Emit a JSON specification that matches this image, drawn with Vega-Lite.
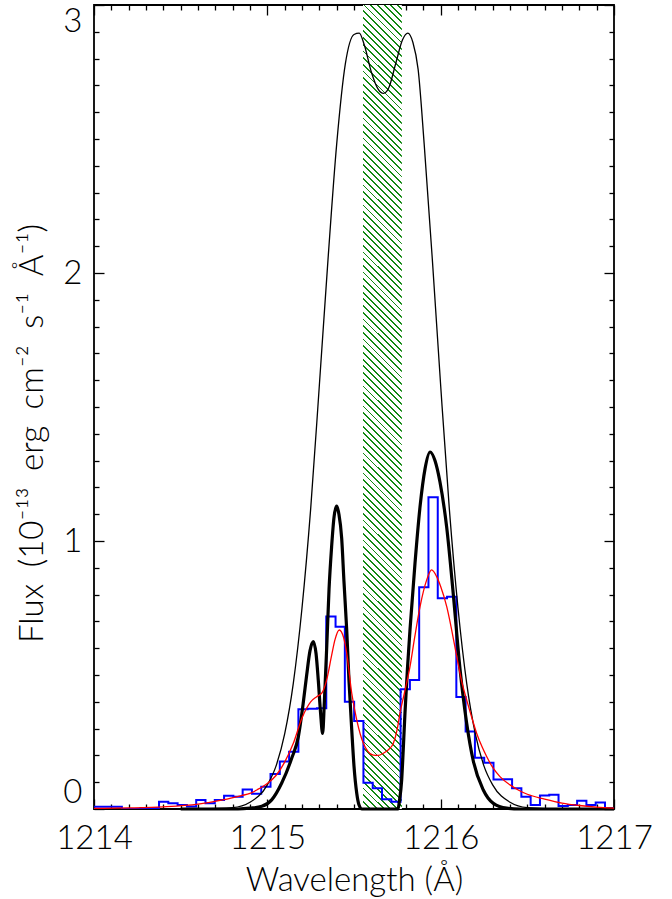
{
"$schema": "https://vega.github.io/schema/vega-lite/v6.json",
"width": 520, "height": 804,
"autosize": {"type": "none"},
"padding": {"left": 94, "top": 5, "right": 58, "bottom": 90},
"background": "white",
"config": {
 "view": {"stroke": "black", "strokeWidth": 1.8},
 "axis": {"grid": false, "domain": false, "tickColor": "black", "tickWidth": 1.3,
  "labelColor": "black", "labelFont": "Lato", "labelFontWeight": 300, "labelFontSize": 33,
  "titleColor": "black", "titleFont": "Lato", "titleFontWeight": 300, "titleFontSize": 33}
},
"datasets": {
 "hatch": [
  {"a": 1215.552, "b": 1215.776, "lo": 0.00, "hi": 0.25},
  {"a": 1215.552, "b": 1215.776, "lo": 0.25, "hi": 0.50},
  {"a": 1215.552, "b": 1215.776, "lo": 0.50, "hi": 0.75},
  {"a": 1215.552, "b": 1215.776, "lo": 0.75, "hi": 1.00},
  {"a": 1215.552, "b": 1215.776, "lo": 1.00, "hi": 1.25},
  {"a": 1215.552, "b": 1215.776, "lo": 1.25, "hi": 1.50},
  {"a": 1215.552, "b": 1215.776, "lo": 1.50, "hi": 1.75},
  {"a": 1215.552, "b": 1215.776, "lo": 1.75, "hi": 2.00},
  {"a": 1215.552, "b": 1215.776, "lo": 2.00, "hi": 2.25},
  {"a": 1215.552, "b": 1215.776, "lo": 2.25, "hi": 2.50},
  {"a": 1215.552, "b": 1215.776, "lo": 2.50, "hi": 2.75},
  {"a": 1215.552, "b": 1215.776, "lo": 2.75, "hi": 3.00}
 ],
 "hist": [
  {"w":1214.0000,"f":0.008},{"w":1214.0536,"f":0.008},{"w":1214.1072,"f":0.008},{"w":1214.1608,"f":0.0},{"w":1214.2144,"f":0.0},
  {"w":1214.2680,"f":0.004},{"w":1214.3216,"f":0.004},{"w":1214.3752,"f":0.027},{"w":1214.4288,"f":0.021},{"w":1214.4824,"f":0.015},
  {"w":1214.5360,"f":0.009},{"w":1214.5896,"f":0.034},{"w":1214.6432,"f":0.021},{"w":1214.6968,"f":0.034},{"w":1214.7504,"f":0.049},
  {"w":1214.8040,"f":0.046},{"w":1214.8576,"f":0.073},{"w":1214.9112,"f":0.057},{"w":1214.9648,"f":0.083},{"w":1215.0184,"f":0.131},
  {"w":1215.0720,"f":0.177},{"w":1215.1256,"f":0.214},{"w":1215.1792,"f":0.372},{"w":1215.2328,"f":0.374},{"w":1215.2864,"f":0.376},
  {"w":1215.3400,"f":0.718},{"w":1215.3936,"f":0.680},{"w":1215.4472,"f":0.400},{"w":1215.5008,"f":0.328},{"w":1215.5544,"f":0.098},
  {"w":1215.6080,"f":0.077},{"w":1215.6616,"f":0.036},{"w":1215.7152,"f":0.027},{"w":1215.7688,"f":0.447},{"w":1215.8224,"f":0.481},
  {"w":1215.8760,"f":0.827},{"w":1215.9296,"f":1.163},{"w":1215.9832,"f":0.786},{"w":1216.0368,"f":0.792},{"w":1216.0904,"f":0.418},
  {"w":1216.1440,"f":0.289},{"w":1216.1976,"f":0.191},{"w":1216.2512,"f":0.173},{"w":1216.3048,"f":0.110},{"w":1216.3584,"f":0.111},
  {"w":1216.4120,"f":0.077},{"w":1216.4656,"f":0.046},{"w":1216.5192,"f":0.015},{"w":1216.5728,"f":0.050},{"w":1216.6264,"f":0.053},
  {"w":1216.6800,"f":0.011},{"w":1216.7336,"f":0.015},{"w":1216.7872,"f":0.031},{"w":1216.8408,"f":0.015},{"w":1216.8944,"f":0.024},
  {"w":1216.9480,"f":0.003},{"w":1217.0016,"f":0.003}
 ],
 "red": [
  {"w":1214.00,"f":0.002},{"w":1214.20,"f":0.004},{"w":1214.40,"f":0.008},{"w":1214.60,"f":0.018},{"w":1214.75,"f":0.035},
  {"w":1214.85,"f":0.050},{"w":1214.90,"f":0.058},{"w":1214.95,"f":0.075},{"w":1215.00,"f":0.095},{"w":1215.05,"f":0.125},
  {"w":1215.10,"f":0.175},{"w":1215.15,"f":0.245},{"w":1215.20,"f":0.340},{"w":1215.25,"f":0.400},{"w":1215.285,"f":0.419},
  {"w":1215.314,"f":0.432},{"w":1215.342,"f":0.481},{"w":1215.37,"f":0.570},{"w":1215.39,"f":0.631},{"w":1215.415,"f":0.668},
  {"w":1215.44,"f":0.640},{"w":1215.458,"f":0.581},{"w":1215.487,"f":0.432},{"w":1215.516,"f":0.332},{"w":1215.554,"f":0.245},
  {"w":1215.58,"f":0.215},{"w":1215.611,"f":0.201},{"w":1215.64,"f":0.200},{"w":1215.669,"f":0.208},{"w":1215.70,"f":0.222},
  {"w":1215.727,"f":0.245},{"w":1215.75,"f":0.300},{"w":1215.765,"f":0.357},{"w":1215.79,"f":0.430},{"w":1215.823,"f":0.531},
  {"w":1215.85,"f":0.640},{"w":1215.881,"f":0.755},{"w":1215.919,"f":0.854},{"w":1215.948,"f":0.892},{"w":1215.977,"f":0.867},
  {"w":1216.00,"f":0.830},{"w":1216.035,"f":0.755},{"w":1216.06,"f":0.680},{"w":1216.093,"f":0.568},{"w":1216.12,"f":0.480},
  {"w":1216.15,"f":0.407},{"w":1216.18,"f":0.340},{"w":1216.208,"f":0.282},{"w":1216.24,"f":0.230},{"w":1216.266,"f":0.195},
  {"w":1216.30,"f":0.155},{"w":1216.342,"f":0.121},{"w":1216.40,"f":0.090},{"w":1216.45,"f":0.070},{"w":1216.50,"f":0.055},
  {"w":1216.60,"f":0.037},{"w":1216.70,"f":0.022},{"w":1216.80,"f":0.013},{"w":1216.90,"f":0.007},{"w":1217.00,"f":0.003}
 ],
 "thin": [
  {"w":1214.60,"f":0.0},{"w":1214.80,"f":0.005},{"w":1214.90,"f":0.025},{"w":1215.00,"f":0.09},{"w":1215.05,"f":0.16},
  {"w":1215.10,"f":0.28},{"w":1215.15,"f":0.47},{"w":1215.20,"f":0.75},{"w":1215.25,"f":1.12},{"w":1215.30,"f":1.58},
  {"w":1215.35,"f":2.05},{"w":1215.40,"f":2.48},{"w":1215.45,"f":2.78},{"w":1215.50,"f":2.89},{"w":1215.53,"f":2.895},
  {"w":1215.56,"f":2.85},{"w":1215.60,"f":2.75},{"w":1215.64,"f":2.685},{"w":1215.67,"f":2.67},{"w":1215.70,"f":2.69},
  {"w":1215.74,"f":2.78},{"w":1215.78,"f":2.87},{"w":1215.81,"f":2.895},{"w":1215.84,"f":2.86},{"w":1215.87,"f":2.76},
  {"w":1215.905,"f":2.48},{"w":1215.952,"f":2.05},{"w":1216.00,"f":1.58},{"w":1216.05,"f":1.12},{"w":1216.10,"f":0.75},
  {"w":1216.15,"f":0.47},{"w":1216.20,"f":0.28},{"w":1216.25,"f":0.16},{"w":1216.30,"f":0.09},{"w":1216.40,"f":0.025},
  {"w":1216.50,"f":0.005},{"w":1216.70,"f":0.0},{"w":1217.00,"f":0.0}
 ],
 "thick": [
  {"w":1214.50,"f":0.0},{"w":1214.831,"f":0.0},{"w":1214.90,"f":0.003},{"w":1214.968,"f":0.010},{"w":1215.025,"f":0.034},
  {"w":1215.083,"f":0.097},{"w":1215.141,"f":0.19},{"w":1215.179,"f":0.27},{"w":1215.208,"f":0.40},{"w":1215.227,"f":0.50},
  {"w":1215.246,"f":0.59},{"w":1215.265,"f":0.625},{"w":1215.281,"f":0.58},{"w":1215.294,"f":0.48},{"w":1215.307,"f":0.36},
  {"w":1215.319,"f":0.282},{"w":1215.329,"f":0.40},{"w":1215.343,"f":0.61},{"w":1215.356,"f":0.82},{"w":1215.371,"f":0.98},
  {"w":1215.385,"f":1.09},{"w":1215.400,"f":1.13},{"w":1215.413,"f":1.10},{"w":1215.429,"f":1.01},{"w":1215.442,"f":0.85},
  {"w":1215.458,"f":0.668},{"w":1215.471,"f":0.48},{"w":1215.487,"f":0.295},{"w":1215.500,"f":0.16},{"w":1215.516,"f":0.058},
  {"w":1215.529,"f":0.015},{"w":1215.546,"f":0.0},{"w":1215.754,"f":0.0},{"w":1215.762,"f":0.03},{"w":1215.775,"f":0.108},
  {"w":1215.784,"f":0.22},{"w":1215.794,"f":0.357},{"w":1215.808,"f":0.52},{"w":1215.823,"f":0.668},{"w":1215.852,"f":0.917},
  {"w":1215.881,"f":1.128},{"w":1215.910,"f":1.27},{"w":1215.939,"f":1.332},{"w":1215.967,"f":1.30},{"w":1215.996,"f":1.22},
  {"w":1216.035,"f":1.05},{"w":1216.073,"f":0.80},{"w":1216.112,"f":0.52},{"w":1216.150,"f":0.32},{"w":1216.188,"f":0.18},
  {"w":1216.246,"f":0.071},{"w":1216.304,"f":0.021},{"w":1216.381,"f":0.003},{"w":1216.458,"f":0.0},{"w":1217.00,"f":0.0}
 ]
},
"resolve": {"axis": {"x": "independent", "y": "independent"}},
"layer": [
 {
  "data": {"name": "hatch"},
  "mark": {"type": "rect", "fill": {"gradient": "linear", "x1": 0, "y1": 1, "x2": 0.6848, "y2": -0.1826, "stops": [
{"offset":0,"color":"#181"},{"offset":0.0177,"color":"#181"},{"offset":0.0177,"color":"#fff"},{"offset":0.0633,"color":"#fff"},
{"offset":0.0633,"color":"#181"},{"offset":0.0810,"color":"#181"},{"offset":0.0810,"color":"#fff"},{"offset":0.1267,"color":"#fff"},
{"offset":0.1267,"color":"#181"},{"offset":0.1444,"color":"#181"},{"offset":0.1444,"color":"#fff"},{"offset":0.1900,"color":"#fff"},
{"offset":0.1900,"color":"#181"},{"offset":0.2077,"color":"#181"},{"offset":0.2077,"color":"#fff"},{"offset":0.2533,"color":"#fff"},
{"offset":0.2533,"color":"#181"},{"offset":0.2710,"color":"#181"},{"offset":0.2710,"color":"#fff"},{"offset":0.3166,"color":"#fff"},
{"offset":0.3166,"color":"#181"},{"offset":0.3343,"color":"#181"},{"offset":0.3343,"color":"#fff"},{"offset":0.3800,"color":"#fff"},
{"offset":0.3800,"color":"#181"},{"offset":0.3977,"color":"#181"},{"offset":0.3977,"color":"#fff"},{"offset":0.4433,"color":"#fff"},
{"offset":0.4433,"color":"#181"},{"offset":0.4610,"color":"#181"},{"offset":0.4610,"color":"#fff"},{"offset":0.5066,"color":"#fff"},
{"offset":0.5066,"color":"#181"},{"offset":0.5243,"color":"#181"},{"offset":0.5243,"color":"#fff"},{"offset":0.5699,"color":"#fff"},
{"offset":0.5699,"color":"#181"},{"offset":0.5876,"color":"#181"},{"offset":0.5876,"color":"#fff"},{"offset":0.6333,"color":"#fff"},
{"offset":0.6333,"color":"#181"},{"offset":0.6510,"color":"#181"},{"offset":0.6510,"color":"#fff"},{"offset":0.6966,"color":"#fff"},
{"offset":0.6966,"color":"#181"},{"offset":0.7143,"color":"#181"},{"offset":0.7143,"color":"#fff"},{"offset":0.7599,"color":"#fff"},
{"offset":0.7599,"color":"#181"},{"offset":0.7776,"color":"#181"},{"offset":0.7776,"color":"#fff"},{"offset":0.8233,"color":"#fff"},
{"offset":0.8233,"color":"#181"},{"offset":0.8410,"color":"#181"},{"offset":0.8410,"color":"#fff"},{"offset":0.8866,"color":"#fff"},
{"offset":0.8866,"color":"#181"},{"offset":0.9043,"color":"#181"},{"offset":0.9043,"color":"#fff"},{"offset":0.9499,"color":"#fff"},
{"offset":0.9499,"color":"#181"},{"offset":0.9676,"color":"#181"},{"offset":0.9676,"color":"#fff"},{"offset":1,"color":"#fff"}
  ]}},
  "encoding": {
   "x": {"field": "a", "type": "quantitative", "scale": {"domain": [1214, 1217], "nice": false, "zero": false},
    "axis": {"orient": "bottom", "values": [1214, 1215, 1216, 1217], "format": "d", "tickSize": -10, "labelPadding": 23, "labelFlush": false, "labelOverlap": false, "title": "Wavelength (Å)", "titlePadding": 9}},
   "x2": {"field": "b"},
   "y": {"field": "lo", "type": "quantitative", "scale": {"domain": [0, 3], "nice": false, "zero": false},
    "axis": {"orient": "left", "values": [0, 1, 2, 3], "format": "d", "tickSize": -10, "labelPadding": 22, "labelFlush": true, "labelOverlap": false, "title": "Flux\u2002(10⁻¹³\u2002erg\u2002cm⁻²\u2002s⁻¹\u2002Å⁻¹)", "titleFontSize": 33, "titlePadding": 13, "titleY": 428}},
   "y2": {"field": "hi"}
  }
 },
 {
  "data": {"name": "hist"},
  "mark": {"type": "line", "interpolate": "step-after", "color": "#0000ff", "strokeWidth": 2, "clip": true},
  "encoding": {
   "x": {"field": "w", "type": "quantitative", "scale": {"domain": [1214, 1217], "nice": false, "zero": false},
    "axis": {"orient": "bottom", "values": [1214.1,1214.2,1214.3,1214.4,1214.5,1214.6,1214.7,1214.8,1214.9,1215.1,1215.2,1215.3,1215.4,1215.5,1215.6,1215.7,1215.8,1215.9,1216.1,1216.2,1216.3,1216.4,1216.5,1216.6,1216.7,1216.8,1216.9], "tickSize": -5, "labels": false, "title": null}},
   "y": {"field": "f", "type": "quantitative", "scale": {"domain": [0, 3], "nice": false, "zero": false},
    "axis": {"orient": "left", "values": [0.1,0.2,0.3,0.4,0.5,0.6,0.7,0.8,0.9,1.1,1.2,1.3,1.4,1.5,1.6,1.7,1.8,1.9,2.1,2.2,2.3,2.4,2.5,2.6,2.7,2.8,2.9], "tickSize": -5, "labels": false, "title": null}}
  }
 },
 {
  "data": {"name": "thin"},
  "mark": {"type": "line", "color": "black", "strokeWidth": 1.3, "interpolate": "monotone"},
  "encoding": {
   "x": {"field": "w", "type": "quantitative", "scale": {"domain": [1214, 1217], "nice": false, "zero": false},
    "axis": {"orient": "top", "values": [1214, 1215, 1216, 1217], "tickSize": -10, "labels": false, "title": null}},
   "y": {"field": "f", "type": "quantitative", "scale": {"domain": [0, 3], "nice": false, "zero": false},
    "axis": {"orient": "right", "values": [0, 1, 2, 3], "tickSize": -10, "labels": false, "title": null}}
  }
 },
 {
  "data": {"name": "thick"},
  "mark": {"type": "line", "color": "black", "strokeWidth": 3.2, "interpolate": "monotone"},
  "encoding": {
   "x": {"field": "w", "type": "quantitative", "scale": {"domain": [1214, 1217], "nice": false, "zero": false},
    "axis": {"orient": "top", "values": [1214.1,1214.2,1214.3,1214.4,1214.5,1214.6,1214.7,1214.8,1214.9,1215.1,1215.2,1215.3,1215.4,1215.5,1215.6,1215.7,1215.8,1215.9,1216.1,1216.2,1216.3,1216.4,1216.5,1216.6,1216.7,1216.8,1216.9], "tickSize": -5, "labels": false, "title": null}},
   "y": {"field": "f", "type": "quantitative", "scale": {"domain": [0, 3], "nice": false, "zero": false},
    "axis": {"orient": "right", "values": [0.1,0.2,0.3,0.4,0.5,0.6,0.7,0.8,0.9,1.1,1.2,1.3,1.4,1.5,1.6,1.7,1.8,1.9,2.1,2.2,2.3,2.4,2.5,2.6,2.7,2.8,2.9], "tickSize": -5, "labels": false, "title": null}}
  }
 },
 {
  "data": {"name": "red"},
  "mark": {"type": "line", "color": "#ff0000", "strokeWidth": 1.3, "interpolate": "monotone"},
  "encoding": {
   "x": {"field": "w", "type": "quantitative", "scale": {"domain": [1214, 1217], "nice": false, "zero": false}, "axis": null},
   "y": {"field": "f", "type": "quantitative", "scale": {"domain": [0, 3], "nice": false, "zero": false}, "axis": null}
  }
 }
]
}
